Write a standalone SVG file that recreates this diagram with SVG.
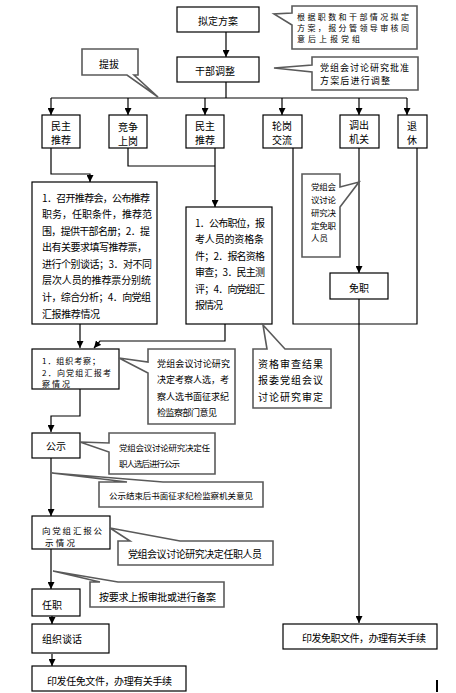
<svg xmlns="http://www.w3.org/2000/svg" width="456" height="693" viewBox="0 0 456 693">
<defs>
<style>
.bg{fill:#fff}
.n{fill:#fff;stroke:#000;stroke-width:1.2}
.c{fill:#fff;stroke:#5a5a5a;stroke-width:1.6}
.l{fill:none;stroke:#000;stroke-width:1.2}
text{font-family:"Noto Sans CJK SC","Noto Sans CJK JP",sans-serif;font-size:10px;fill:#000;dominant-baseline:central}
.m{text-anchor:middle}
.s9{font-size:9px}
.s85{font-size:8.5px}
.s8{font-size:8px}
</style>
<marker id="a" viewBox="0 0 8 8" refX="8" refY="4" markerWidth="7" markerHeight="7" markerUnits="userSpaceOnUse" orient="auto">
<path d="M0,0 L8,4 L0,8 Z" fill="#000"/>
</marker>
</defs>
<rect class="bg" x="0" y="0" width="456" height="693"/>

<g id="connectors">
<path class="l" d="M226,32 V57" marker-end="url(#a)"/>
<path class="l" d="M226,82 V98 M51,98 H407"/>
<path class="l" d="M51,98 V115" marker-end="url(#a)"/>
<path class="l" d="M128,98 V115" marker-end="url(#a)"/>
<path class="l" d="M205,98 V115" marker-end="url(#a)"/>
<path class="l" d="M282,98 V115" marker-end="url(#a)"/>
<path class="l" d="M359,98 V115" marker-end="url(#a)"/>
<path class="l" d="M407,98 V115" marker-end="url(#a)"/>
<path class="l" d="M51,148 V174 H90 V182" marker-end="url(#a)"/>
<path class="l" d="M128,148 V166 H215"/>
<path class="l" d="M215,148 V207" marker-end="url(#a)"/>
<path class="l" d="M293,148 V324 H417 V148"/>
<path class="l" d="M359,148 V273" marker-end="url(#a)"/>
<path class="l" d="M359,299 V623" marker-end="url(#a)"/>
<path class="l" d="M80,324 V348" marker-end="url(#a)"/>
<path class="l" d="M225,324 V341 H100 L94,348" marker-end="url(#a)"/>
<path class="l" d="M80,389 V416 H51 V432" marker-end="url(#a)"/>
<path class="l" d="M51,458 V516" marker-end="url(#a)"/>
<path class="l" d="M51,549 V589" marker-end="url(#a)"/>
<path class="l" d="M52,616 V624" marker-end="url(#a)"/>
<path class="l" d="M52,654 V666" marker-end="url(#a)"/>
</g>

<g id="n-niding">
<rect class="n" x="177" y="7" width="82" height="25"/>
<text class="m" x="218" y="20">拟定方案</text>
</g>
<g id="c-niding">
<path class="c" d="M292,6 H417 V49 H292 V25 L274,14 L292,13 Z"/>
<text class="s8" x="297" y="16.5" textLength="112">根据职数和干部情况拟定</text>
<text class="s8" x="297" y="27.5" textLength="112">方案，报分管领导审核同</text>
<text class="s8" x="297" y="38.5" textLength="63">意后上报党组</text>
</g>

<g id="n-tiaozheng">
<rect class="n" x="177" y="57" width="82" height="25"/>
<text class="m" x="215" y="70">干部调整</text>
</g>
<g id="c-tiaozheng">
<path class="c" d="M312,57 H418 V90 H312 V72 L274,68 L312,65 Z"/>
<text class="s9" x="320" y="67.5" textLength="89">党组会讨论研究批准</text>
<text class="s9" x="320" y="80" textLength="70">方案后进行调整</text>
</g>

<g id="c-tiba">
<path class="c" d="M82,49 H138 V75 H134 L158,97 L127,75 H82 Z"/>
<text class="m" x="109" y="63">提拔</text>
</g>

<g id="n-minzhu1">
<rect class="n" x="42" y="115" width="38" height="33"/>
<text class="m" x="61" y="125.5">民主</text>
<text class="m" x="61" y="139.5">推荐</text>
</g>
<g id="n-jingzheng">
<rect class="n" x="109" y="115" width="38" height="33"/>
<text class="m" x="128" y="126">竞争</text>
<text class="m" x="128" y="140.5">上岗</text>
</g>
<g id="n-minzhu2">
<rect class="n" x="186" y="115" width="38" height="33"/>
<text class="m" x="205" y="125.5">民主</text>
<text class="m" x="205" y="139.5">推荐</text>
</g>
<g id="n-lungang">
<rect class="n" x="263" y="115" width="39" height="33"/>
<text class="m" x="282" y="125.5">轮岗</text>
<text class="m" x="282" y="139.5">交流</text>
</g>
<g id="n-diaochu">
<rect class="n" x="340" y="115" width="39" height="33"/>
<text class="m" x="359" y="124.5">调出</text>
<text class="m" x="359" y="138">机关</text>
</g>
<g id="n-tuixiu">
<rect class="n" x="398" y="115" width="29" height="33"/>
<text class="m" x="412" y="125.5">退</text>
<text class="m" x="412" y="139.5">休</text>
</g>

<g id="n-tuijian">
<rect class="n" x="32" y="182" width="125" height="142"/>
<text x="42" y="197" textLength="108">1．召开推荐会，公布推荐</text>
<text x="42" y="213.5" textLength="110">职务，任职条件，推荐范</text>
<text x="42" y="230" textLength="108">围，提供干部名册；2．提</text>
<text x="42" y="246.5" textLength="105">出有关要求填写推荐票，</text>
<text x="42" y="263" textLength="110">进行个别谈话；3．对不同</text>
<text x="42" y="279.5" textLength="109">层次人员的推荐票分别统</text>
<text x="42" y="296.5" textLength="109">计，综合分析；4．向党组</text>
<text x="42" y="313" textLength="58">汇报推荐情况</text>
</g>

<g id="n-gongbu">
<rect class="n" x="186" y="207" width="86" height="117"/>
<text x="195" y="222" textLength="70">1．公布职位，报</text>
<text x="195" y="238.5" textLength="69">考人员的资格条</text>
<text x="195" y="255" textLength="70">件；2．报名资格</text>
<text x="195" y="271.5" textLength="70">审查；3．民主测</text>
<text x="195" y="288" textLength="70">评；4．向党组汇</text>
<text x="195" y="304.5" textLength="28">报情况</text>
</g>

<g id="c-mianzhi">
<path class="c" d="M302,174 H340 V187 L359,182 L340,207 V257 H302 Z"/>
<text class="s85" x="311" y="186" textLength="25">党组会</text>
<text class="s85" x="311" y="199" textLength="25">议讨论</text>
<text class="s85" x="311" y="212" textLength="25">研究决</text>
<text class="s85" x="311" y="224.5" textLength="25">定免职</text>
<text class="s85" x="311" y="237" textLength="17">人员</text>
</g>

<g id="n-mianzhi">
<rect class="n" x="330" y="273" width="58" height="26"/>
<text class="m" x="359" y="287">免职</text>
</g>

<g id="n-kaocha">
<rect class="n" x="32" y="349" width="87" height="40"/>
<text class="s8" x="42" y="360.5" textLength="58">1．组织考察；</text>
<text class="s8" x="42" y="372" textLength="69">2．向党组汇报考</text>
<text class="s8" x="42" y="383.5" textLength="28">察情况</text>
</g>
<g id="c-kaocha">
<path class="c" d="M148,349 H235 V424 H148 V373 L119,358 L148,362 Z"/>
<text class="s9" x="157" y="363" textLength="73">党组会议讨论研究</text>
<text class="s9" x="157" y="379.5" textLength="72">决定考察人选，考</text>
<text class="s9" x="157" y="396" textLength="72">察人选书面征求纪</text>
<text class="s9" x="157" y="412.5" textLength="60">检监察部门意见</text>
</g>

<g id="c-zige">
<path class="c" d="M253,349 H267 L263,325 L285,349 H331 V408 H253 Z"/>
<text x="258" y="363" textLength="65">资格审查结果</text>
<text x="258" y="379.5" textLength="65">报委党组会议</text>
<text x="258" y="396" textLength="65">讨论研究审定</text>
</g>

<g id="n-gongshi">
<rect class="n" x="32" y="433" width="48" height="25"/>
<text class="m" x="56" y="445">公示</text>
</g>
<g id="c-gongshi">
<path class="c" d="M109,433 H215 V474 H109 V452 L80,442 L109,443 Z"/>
<text class="s85" x="119" y="447" textLength="91">党组会议讨论研究决定任</text>
<text class="s85" x="119" y="463" textLength="61">职人选后进行公示</text>
</g>

<g id="c-jiesu">
<path class="c" d="M99,482 H127 L52,473 L163,482 H263 V507 H99 Z"/>
<text class="s85" x="109" y="495" textLength="144">公示结束后书面征求纪检监察机关意见</text>
</g>

<g id="n-huibao">
<rect class="n" x="32" y="516" width="78" height="33"/>
<text class="s85" x="42" y="529.5" textLength="60">向党组汇报公</text>
<text class="s85" x="45" y="542" textLength="30">示情况</text>
</g>
<g id="c-renyuan">
<path class="c" d="M118,541 H130 L110,528 L180,541 H273 V565 H118 Z"/>
<text x="128" y="553" textLength="134">党组会议讨论研究决定任职人员</text>
</g>

<g id="n-renzhi">
<rect class="n" x="32" y="589" width="48" height="27"/>
<text x="42" y="604">任职</text>
</g>
<g id="c-beian">
<path class="c" d="M90,582 H100 L53,571 L118,582 H224 V607 H90 Z"/>
<text x="99" y="596" textLength="117">按要求上报审批或进行备案</text>
</g>

<g id="n-tanhua">
<rect class="n" x="32" y="624" width="77" height="29"/>
<text x="42" y="638">组织谈话</text>
</g>

<g id="n-renmian">
<rect class="n" x="32" y="666" width="154" height="25"/>
<text x="47" y="680" textLength="125">印发任免文件，办理有关手续</text>
</g>

<g id="n-mianzhiwj">
<rect class="n" x="283" y="624" width="154" height="25"/>
<text x="302" y="637" textLength="124">印发免职文件，办理有关手续</text>
</g>

<path d="M437,680 V692" stroke="#000" stroke-width="2"/>
</svg>
